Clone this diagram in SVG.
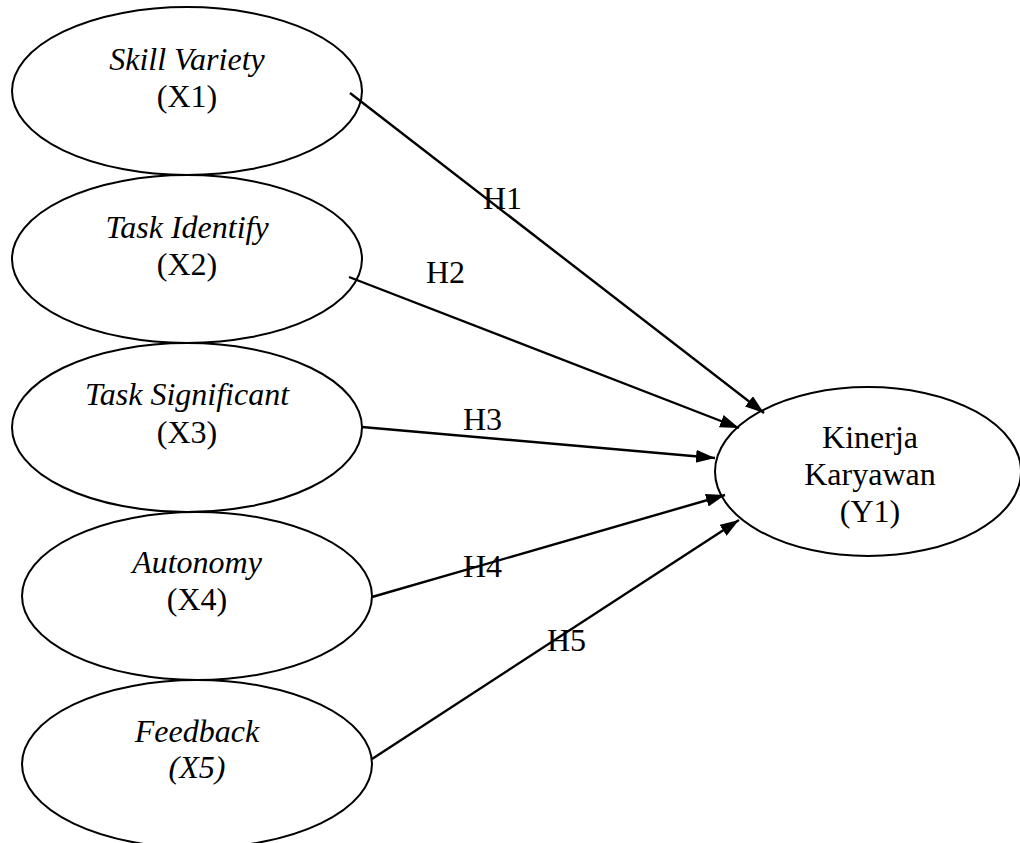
<svg xmlns="http://www.w3.org/2000/svg" width="1020" height="843" viewBox="0 0 1020 843">
<style>
.node ellipse{fill:#fff;stroke:#000;stroke-width:2}
text{font-family:"Liberation Serif","Times New Roman",serif;font-size:32px;fill:#000;text-anchor:middle}
.it{font-style:italic}
.lbl{text-anchor:start}
.edge{stroke:#000;stroke-width:2.4;fill:none;marker-end:url(#ah)}
</style>
<defs>
<marker id="ah" markerUnits="userSpaceOnUse" markerWidth="20" markerHeight="14" refX="19" refY="6.5" orient="auto">
<path d="M0,0 L19,6.5 L0,13 z" fill="#000"/>
</marker>
</defs>
<rect width="1020" height="843" fill="#fff"/>
<g id="n1" class="node"><ellipse cx="187" cy="91" rx="175" ry="84"/><text class="it" x="187" y="70">Skill Variety</text><text x="187" y="107">(X1)</text></g>
<g id="n2" class="node"><ellipse cx="187" cy="259" rx="175" ry="84"/><text class="it" x="187" y="238">Task Identify</text><text x="187" y="275">(X2)</text></g>
<g id="n3" class="node"><ellipse cx="187" cy="427.5" rx="175" ry="84.5"/><text class="it" x="187" y="405">Task Significant</text><text x="187" y="443">(X3)</text></g>
<g id="n4" class="node"><ellipse cx="197" cy="596" rx="175" ry="84"/><text class="it" x="197" y="573">Autonomy</text><text x="197" y="610">(X4)</text></g>
<g id="n5" class="node"><ellipse cx="197" cy="764" rx="175" ry="84"/><text class="it" x="197" y="742">Feedback</text><text class="it" x="197" y="778">(X5)</text></g>
<g id="y1" class="node"><ellipse cx="868" cy="471.5" rx="153" ry="84.5"/><text x="870" y="448">Kinerja</text><text x="870" y="485">Karyawan</text><text x="870" y="522">(Y1)</text></g>
<g id="connectors">
<line class="edge" x1="350" y1="93" x2="764" y2="413"/>
<line class="edge" x1="349" y1="277" x2="739" y2="428"/>
<line class="edge" x1="362" y1="427" x2="715" y2="458"/>
<line class="edge" x1="372" y1="597" x2="725" y2="495"/>
<line class="edge" x1="372" y1="759" x2="739" y2="520"/>
<text class="lbl" x="483" y="209">H1</text>
<text class="lbl" x="426" y="283">H2</text>
<text class="lbl" x="463" y="430">H3</text>
<text class="lbl" x="463" y="577">H4</text>
<text class="lbl" x="547" y="651">H5</text>
</g>
</svg>
